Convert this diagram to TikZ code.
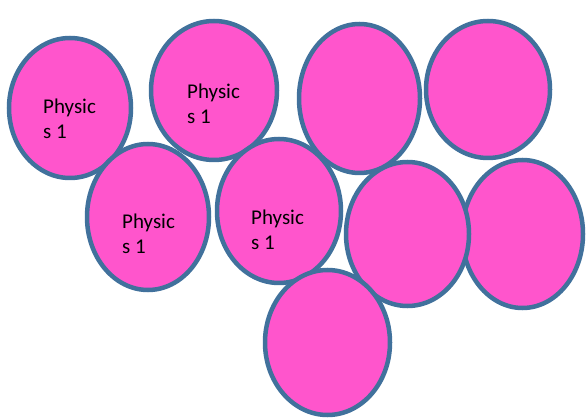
\documentclass[tikz,border=0pt]{standalone}
\usepackage{fontspec}
\setmainfont{Carlito}
\usetikzlibrary{shapes.geometric}
\definecolor{cellpink}{HTML}{FF55CC}
\definecolor{cellblue}{HTML}{41719C}

\begin{document}
\begin{tikzpicture}[x=1pt, y=-1pt,
    cell/.style={ellipse, draw=cellblue, fill=cellpink, line width=4.5pt, inner sep=0pt},
    lbl/.style={align=left, font=\fontsize{21}{25}\selectfont, inner sep=0pt, anchor=north west}]
    \useasboundingbox (0,0) rectangle (586,419);
    % Zellen, obere Reihe
    \node[cell, minimum width=122pt, minimum height=140pt] (c1) at (70,108) {};
    \node[cell, minimum width=126pt, minimum height=139pt] (c2) at (214,90.5) {};
    \node[cell, minimum width=121pt, minimum height=149pt] (c3) at (359.5,98.5) {};
    \node[cell, minimum width=124pt, minimum height=137pt] (c4) at (488,89.5) {};
    % Zellen, mittlere Reihe
    \node[cell, minimum width=121pt, minimum height=148pt] (c8) at (522.5,234) {};
    \node[cell, minimum width=122pt, minimum height=146pt] (c5) at (148,217) {};
    \node[cell, minimum width=124pt, minimum height=144pt] (c6) at (279,211) {};
    \node[cell, minimum width=123pt, minimum height=144pt] (c7) at (407.5,234) {};
    % unten
    \node[cell, minimum width=125pt, minimum height=145pt] (c9) at (327.5,342.5) {};
    % Beschriftungen
    \node[lbl] (t1) at (43,99) {Physic\\s 1};
    \node[lbl] (t2) at (187,84) {Physic\\s 1};
    \node[lbl] (t5) at (122,214) {Physic\\s 1};
    \node[lbl] (t6) at (251,210) {Physic\\s 1};
\end{tikzpicture}
\end{document}
